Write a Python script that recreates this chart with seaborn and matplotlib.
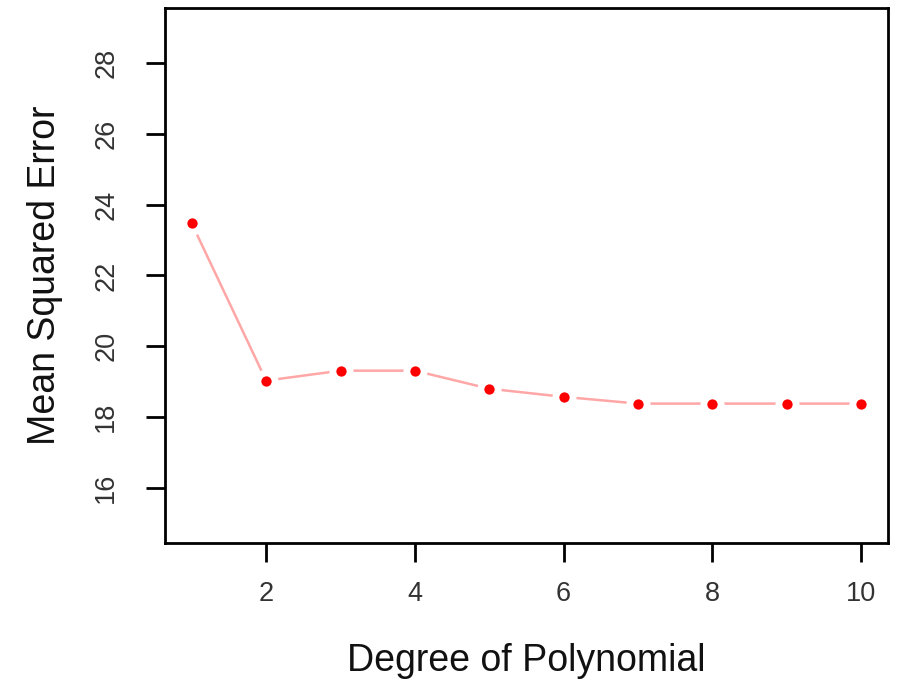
import numpy as np
import matplotlib.pyplot as plt
import seaborn as sns
import pandas as pd

# values
degree = [1, 2, 3, 4, 5, 6, 7, 8, 9, 10]
mse = [23.47, 19.03, 19.31, 19.31, 18.80, 18.57, 18.38, 18.38, 18.38, 18.38]
x_ticks = [2, 4, 6, 8, 10]
y_ticks = [16, 18, 20, 22, 24, 26, 28]

df = pd.DataFrame({'degree': degree, 'mse': mse})

sns.set_theme(style='ticks')
plt.rcParams['font.family'] = ['Liberation Sans', 'DejaVu Sans']

fig = plt.figure(figsize=(9.04, 6.82), dpi=100)
ax = fig.add_axes([0.1825, 0.2038, 0.7998, 0.7845])

sns.lineplot(data=df, x='degree', y='mse', color='#ffa6a6', linewidth=1.8, ax=ax, zorder=1)
# white halo gives the R type="b" gaps around the points
sns.scatterplot(data=df, x='degree', y='mse', color='white', s=300, linewidth=0, ax=ax, zorder=2)
sns.scatterplot(data=df, x='degree', y='mse', color='#ff0000', s=55, linewidth=0, ax=ax, zorder=3)

ax.set_xlim(0.64, 10.36)
ax.set_ylim(14.44, 29.56)
ax.set_xticks(x_ticks)
ax.set_yticks(y_ticks)
ax.set_yticklabels([str(v) for v in y_ticks], rotation=90, va='center')

for s in ax.spines.values():
    s.set_visible(True)
    s.set_linewidth(2.0)
    s.set_color('black')

ax.tick_params(axis='both', length=14, width=2.0, color='black', labelsize=19.5, labelcolor='#333333')
ax.tick_params(axis='x', pad=13)
ax.tick_params(axis='y', pad=19)

ax.set_xlabel('Degree of Polynomial', fontsize=27, color='#111111', labelpad=26)
ax.set_ylabel('Mean Squared Error', fontsize=27, color='#111111', labelpad=22)

fig.savefig('out.png', dpi=100)
